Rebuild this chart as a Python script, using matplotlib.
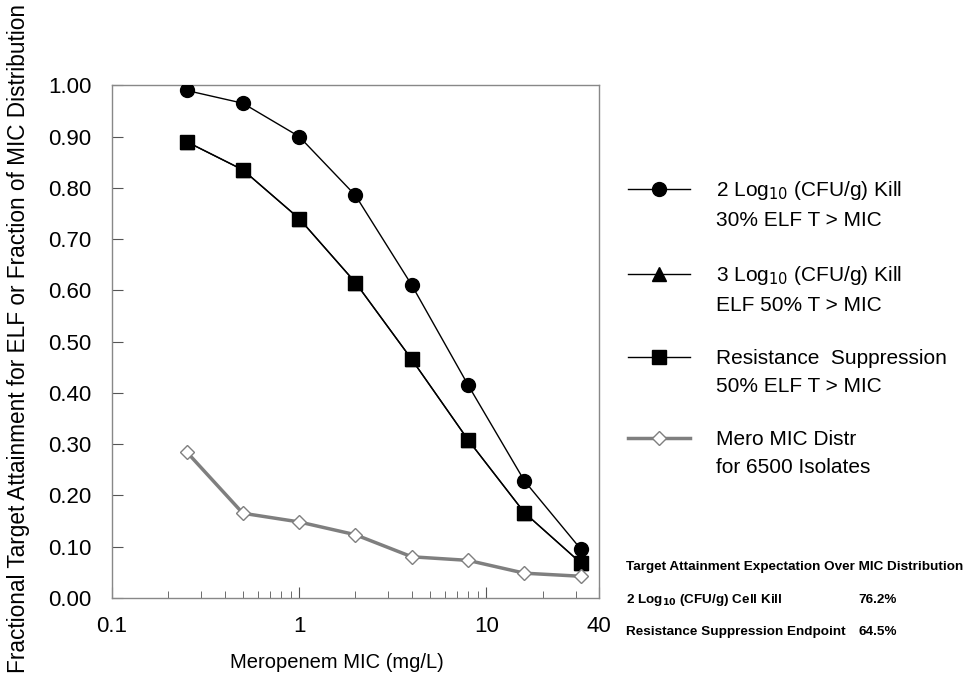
import matplotlib
matplotlib.use("Agg")
import matplotlib.pyplot as plt
from matplotlib.ticker import FixedLocator, NullFormatter

plt.rcParams['font.family'] = ['Liberation Sans', 'DejaVu Sans']

# MIC values (mg/L)
mic = [0.25, 0.5, 1, 2, 4, 8, 16, 32]

# fractional target attainment
kill2 = [0.99, 0.965, 0.90, 0.785, 0.61, 0.415, 0.228, 0.095]
kill3 = [0.89, 0.835, 0.74, 0.615, 0.465, 0.308, 0.166, 0.068]
resist = [0.89, 0.835, 0.74, 0.615, 0.465, 0.308, 0.166, 0.068]
mic_distr = [0.285, 0.165, 0.148, 0.123, 0.080, 0.073, 0.048, 0.042]

yticks = [0.0, 0.1, 0.2, 0.3, 0.4, 0.5, 0.6, 0.7, 0.8, 0.9, 1.0]
xticks = [0.1, 1, 10, 40]
xticklabels = ['0.1', '1', '10', '40']
xminor = [0.2, 0.3, 0.4, 0.5, 0.6, 0.7, 0.8, 0.9,
          2, 3, 4, 5, 6, 7, 8, 9, 20, 30]

leg_first = ['2 Log$_{10}$ (CFU/g) Kill',
             '3 Log$_{10}$ (CFU/g) Kill',
             'Resistance  Suppression', 'Mero MIC Distr']
leg_second = ['30% ELF T > MIC', 'ELF 50% T > MIC',
              '50% ELF T > MIC', 'for 6500 Isolates']

fig = plt.figure(figsize=(9.66, 6.77), dpi=100)
ax = fig.add_axes([0.116, 0.117, 0.504, 0.757])

l2, = ax.plot(mic, kill2, color='black', lw=1, marker='o', ms=10, zorder=3)
l3, = ax.plot(mic, kill3, color='black', lw=1, marker='^', ms=10, zorder=2)
lr, = ax.plot(mic, resist, color='black', lw=1, marker='s', ms=10, zorder=3)
lm, = ax.plot(mic, mic_distr, color='#7f7f7f', lw=2.5, marker='D', ms=7,
              mfc='white', mec='#7f7f7f', mew=1, zorder=3)

ax.set_xscale('log')
ax.set_xlim(0.1, 40)
ax.set_ylim(0, 1.0)
ax.set_xticks(xticks)
ax.set_xticklabels(xticklabels)
ax.xaxis.set_minor_locator(FixedLocator(xminor))
ax.xaxis.set_minor_formatter(NullFormatter())
ax.set_yticks(yticks)
ax.set_yticklabels(['%.2f' % v for v in yticks])
ax.tick_params(axis='both', which='major', direction='in', length=8,
               labelsize=16, color='#555555')
ax.tick_params(axis='y', which='major', pad=15)
ax.tick_params(axis='x', which='major', pad=13)
ax.tick_params(axis='x', which='minor', direction='in', length=5,
               color='#555555')
for s in ax.spines.values():
    s.set_color('#888888')
    s.set_linewidth(1)

ax.set_xlabel('Meropenem MIC (mg/L)', fontsize=14.5)
ax.xaxis.set_label_coords(0.462, -0.107)
fig.text(0.019, 0.5, 'Fractional Target Attainment for ELF or Fraction of MIC Distribution',
         rotation=90, fontsize=16.3, ha='center', va='center')

leg = fig.legend(handles=[l2, l3, lr, lm], labels=leg_first, loc='upper left',
                 bbox_to_anchor=(0.650, 0.735), frameon=False, fontsize=15,
                 handlelength=2.97, labelspacing=2.97, handletextpad=1.25,
                 borderpad=0, borderaxespad=0)

# second line of each legend entry, placed under the first
fig.canvas.draw()
inv = fig.transFigure.inverted()
for t, s in zip(leg.get_texts(), leg_second):
    bb = t.get_window_extent()
    x0, y0 = inv.transform((bb.x0, bb.y0 - 24))
    fig.text(x0, y0, s, fontsize=15, va='baseline')

fig.text(0.648, 0.1625, 'Target Attainment Expectation Over MIC Distribution',
         fontsize=9.7, fontweight='bold', va='center')
fig.text(0.648, 0.1137, '2 Log$_{\\mathbf{10}}$ (CFU/g) Cell Kill',
         fontsize=9.7, fontweight='bold', va='center')
fig.text(0.889, 0.1137, '76.2%', fontsize=9.7, fontweight='bold', va='center')
fig.text(0.648, 0.0665, 'Resistance Suppression Endpoint', fontsize=9.7,
         fontweight='bold', va='center')
fig.text(0.889, 0.0665, '64.5%', fontsize=9.7, fontweight='bold', va='center')

fig.savefig('out.png', dpi=100)
